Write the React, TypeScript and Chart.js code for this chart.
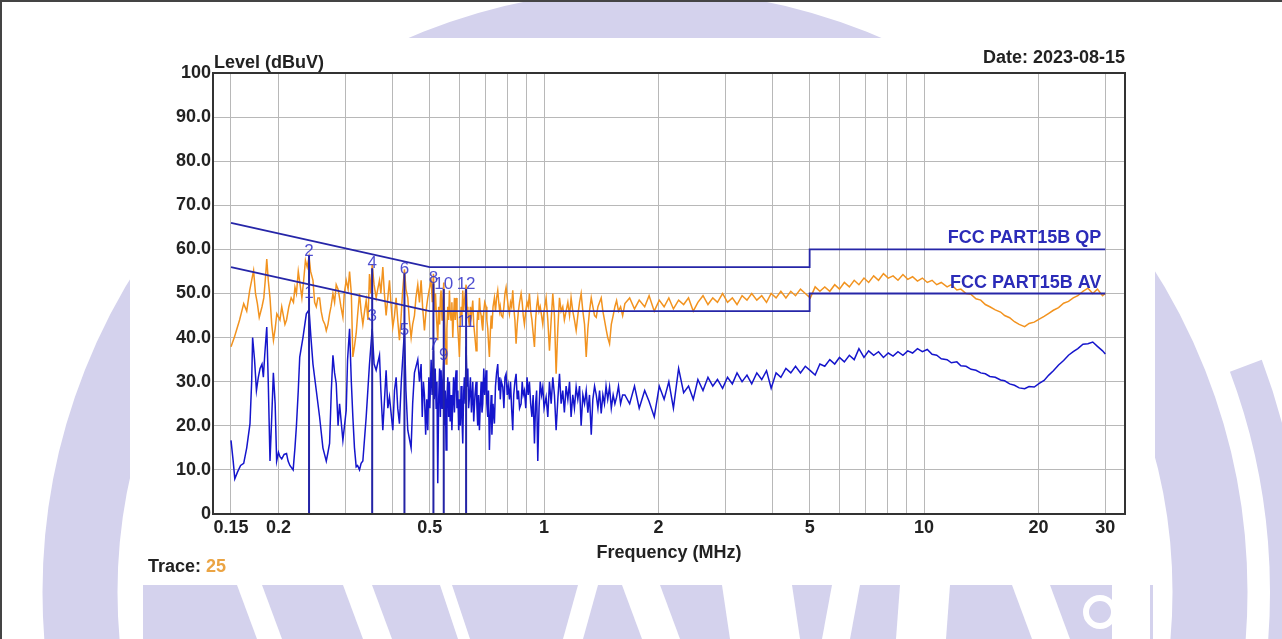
import React, { useEffect, useRef } from 'react';
import { Chart, registerables } from 'chart.js';

Chart.register(...registerables);

// ---------- axis ticks ----------
const xGridTicks = [0.15, 0.2, 0.3, 0.4, 0.5, 0.6, 0.7, 0.8, 0.9, 1, 2, 3, 4, 5, 6, 7, 8, 9, 10, 20, 30];
const xTickLabels = ['0.15', '0.2', '', '', '0.5', '', '', '', '', '1', '2', '', '', '5', '', '', '', '', '10', '20', '30'];
const yTicks = [0, 10, 20, 30, 40, 50, 60, 70, 80, 90, 100];
const yTickLabels = ['0', '10.0', '20.0', '30.0', '40.0', '50.0', '60.0', '70.0', '80.0', '90.0', '100'];

// ---------- limit lines (MHz, dBuV) ----------
const qpLimit: [number, number][] = [[0.15, 66], [0.5, 56], [5, 56], [5, 60], [30, 60]];
const avLimit: [number, number][] = [[0.15, 56], [0.5, 46], [5, 46], [5, 50], [30, 50]];
const limitNames = ['FCC PART15B QP', 'FCC PART15B AV'];
const limitNameLevels = [60, 50];

// ---------- peak trace (orange) ----------
const peakTrace: [number, number][] = [
  [0.150, 37.9], [0.153, 40], [0.155, 41.6], [0.158, 44], [0.162, 47.7], [0.165, 46], [0.168, 50.7], [0.170, 53],
  [0.172, 55.2], [0.174, 50], [0.176, 47.7], [0.178, 44.6], [0.181, 47], [0.183, 49], [0.185, 54], [0.1863, 57.8],
  [0.188, 53], [0.190, 49], [0.192, 43], [0.194, 39.4], [0.196, 42], [0.198, 45.4], [0.2018, 44], [0.204, 47],
  [0.206, 45], [0.208, 43], [0.210, 44], [0.213, 47], [0.216, 49], [0.219, 48], [0.221, 51.4], [0.223, 50],
  [0.2255, 55], [0.228, 52], [0.2305, 49], [0.233, 53], [0.2355, 57.5], [0.238, 56], [0.2407, 58.3], [0.243, 55],
  [0.2465, 53], [0.249, 48], [0.2515, 47], [0.254, 49], [0.2566, 49], [0.259, 46], [0.2618, 44], [0.265, 43],
  [0.2672, 41.6], [0.270, 43], [0.2726, 45.4], [0.275, 47], [0.2782, 50], [0.281, 48], [0.2838, 52], [0.287, 51],
  [0.2896, 49], [0.292, 47], [0.2955, 44.6], [0.298, 50], [0.3015, 53], [0.305, 51], [0.3077, 55], [0.311, 50],
  [0.3139, 35.6], [0.317, 38], [0.3203, 41], [0.323, 45], [0.3268, 50], [0.330, 46], [0.3335, 43], [0.337, 46],
  [0.3403, 48.4], [0.344, 44], [0.3472, 54.4], [0.350, 50], [0.3529, 56.5], [0.357, 52], [0.3615, 49], [0.365, 51],
  [0.3689, 53], [0.372, 50], [0.3764, 56], [0.380, 50], [0.384, 45], [0.388, 49], [0.3919, 53], [0.396, 47],
  [0.3999, 42.4], [0.404, 45], [0.408, 49], [0.412, 44], [0.4163, 39.4], [0.420, 44], [0.424, 50], [0.4291, 55.5],
  [0.433, 51], [0.4379, 49], [0.442, 44], [0.4468, 40], [0.451, 43], [0.4559, 45], [0.460, 49], [0.4652, 52],
  [0.470, 48], [0.4747, 53], [0.479, 47], [0.4844, 41.6], [0.489, 46], [0.4943, 49], [0.499, 51],
  [0.5044, 53], [0.508, 48], [0.5115, 54.5], [0.515, 46], [0.518, 50], [0.5215, 44], [0.5251, 39.4], [0.528, 47],
  [0.531, 43], [0.5335, 49], [0.5358, 50.7], [0.539, 44], [0.5415, 48], [0.5445, 52.5], [0.547, 45], [0.5495, 40],
  [0.5523, 34], [0.555, 42], [0.558, 47], [0.5608, 44], [0.5636, 50.7], [0.566, 46], [0.569, 44], [0.572, 48],
  [0.5751, 40], [0.578, 45], [0.581, 49], [0.5838, 44], [0.5868, 49], [0.590, 46], [0.593, 42], [0.596, 39],
  [0.5988, 35.6], [0.602, 43], [0.605, 47], [0.608, 45], [0.611, 50.7], [0.614, 46], [0.617, 48], [0.620, 50],
  [0.6235, 52], [0.627, 47], [0.630, 46], [0.633, 44], [0.6362, 42.4], [0.640, 47], [0.644, 45], [0.6492, 48.4],
  [0.653, 43], [0.658, 40], [0.6624, 37], [0.666, 43], [0.669, 46], [0.6725, 44], [0.6759, 49], [0.6795, 46],
  [0.683, 45], [0.6865, 43], [0.6897, 41.6], [0.694, 46], [0.698, 48], [0.7038, 47], [0.707, 44], [0.711, 42],
  [0.714, 39], [0.7181, 35.6], [0.722, 41], [0.726, 45], [0.729, 42], [0.734, 47], [0.7402, 49], [0.745, 46],
  [0.750, 49], [0.7553, 50.7], [0.760, 48], [0.764, 46], [0.767, 47], [0.772, 45], [0.7786, 44.6], [0.784, 47],
  [0.789, 50], [0.7944, 51.4], [0.800, 49], [0.805, 47], [0.8107, 45.4], [0.816, 48], [0.8215, 47], [0.8272, 50.7],
  [0.832, 47], [0.838, 44], [0.8441, 38.6], [0.850, 43], [0.856, 46], [0.862, 48], [0.8701, 50], [0.876, 48],
  [0.8815, 45], [0.8878, 43], [0.895, 46], [0.902, 48], [0.9085, 47], [0.9151, 50], [0.922, 46], [0.929, 44],
  [0.936, 41], [0.9434, 37.9], [0.950, 44], [0.956, 47], [0.9627, 49], [0.970, 46], [0.977, 47], [0.985, 45],
  [0.9923, 43], [1.000, 46], [1.0125, 49], [1.023, 44], [1.0333, 37], [1.044, 44], [1.0544, 50], [1.065, 45],
  [1.0759, 31.8], [1.087, 42], [1.098, 49], [1.109, 46], [1.12, 47], [1.131, 44], [1.143, 46], [1.155, 48],
  [1.167, 45], [1.178, 49], [1.19, 46], [1.202, 44], [1.2147, 41.6], [1.227, 45], [1.24, 48], [1.252, 50],
  [1.265, 46], [1.278, 43], [1.291, 35.6], [1.304, 42], [1.317, 46], [1.331, 49], [1.344, 47], [1.358, 45],
  [1.372, 44.6], [1.386, 47], [1.4, 48], [1.4138, 49], [1.428, 46], [1.442, 44], [1.456, 42], [1.471, 40],
  [1.4872, 38.6], [1.503, 43], [1.52, 45], [1.536, 47], [1.552, 48.4], [1.57, 46], [1.59, 47], [1.61, 45],
  [1.632, 47.7],
  [1.68, 49], [1.73, 46.5], [1.78, 48.5], [1.84, 47], [1.89, 49.5], [1.95, 46], [2.01, 48.5], [2.07, 47],
  [2.13, 49], [2.19, 46.5], [2.26, 48.5], [2.33, 47.5], [2.40, 49], [2.47, 46], [2.54, 48], [2.62, 49.5],
  [2.70, 47.5], [2.78, 49], [2.86, 48], [2.95, 50], [3.04, 48], [3.13, 49], [3.22, 47.5], [3.32, 49.5],
  [3.42, 48.5], [3.52, 50], [3.63, 48.5], [3.74, 49.5], [3.85, 48], [3.96, 50], [4.08, 49], [4.20, 50.5],
  [4.33, 49], [4.46, 50.5], [4.59, 49.5], [4.73, 51], [4.87, 50], [5.02, 49], [5.17, 51.5], [5.32, 50.5],
  [5.48, 51.5], [5.65, 50.5], [5.82, 52], [5.99, 51], [6.17, 52.5], [6.36, 51.5], [6.55, 53], [6.74, 52],
  [6.95, 53.5], [7.15, 52.5], [7.37, 54], [7.59, 53], [7.82, 54.5], [8.05, 53.5], [8.29, 54], [8.54, 53],
  [8.80, 54.3], [9.06, 53.2], [9.33, 53.8], [9.61, 52.8], [9.90, 53.5], [10.2, 52.5], [10.5, 53], [10.8, 52],
  [11.1, 52.5], [11.5, 51.5], [11.8, 52], [12.2, 50.8], [12.5, 51], [12.9, 50], [13.3, 49.8], [13.7, 48.8],
  [14.1, 48.5], [14.5, 47.5], [14.9, 47], [15.4, 46.3], [15.9, 45.8], [16.3, 45], [16.8, 44.5], [17.3, 43.6],
  [17.8, 43], [18.4, 42.5], [18.9, 43.2], [19.5, 43.5], [20.1, 44.2], [20.7, 44.8], [21.3, 45.5], [21.9, 46.2],
  [22.6, 46.8], [23.3, 47.8], [24.0, 48.2], [24.7, 49], [25.4, 49.5], [26.2, 50.5], [27.0, 51.2], [27.8, 50],
  [28.6, 51], [29.5, 49.5], [30.0, 50],
];

// ---------- average trace (blue) ----------
const avgTrace: [number, number][] = [
  [0.150, 16.7], [0.152, 12], [0.1535, 8], [0.156, 9.5], [0.159, 11], [0.162, 11.5], [0.165, 15], [0.1683, 20.5],
  [0.170, 30], [0.171, 40], [0.173, 35], [0.175, 28], [0.177, 31], [0.1789, 33], [0.181, 34], [0.1825, 31],
  [0.184, 36], [0.1863, 42.4], [0.188, 30], [0.190, 12], [0.192, 22], [0.1939, 32], [0.196, 25], [0.1978, 12],
  [0.200, 14], [0.2018, 13], [0.204, 12.5], [0.207, 13.5], [0.210, 13.7], [0.212, 12], [0.2143, 11], [0.2186, 10],
  [0.221, 15], [0.223, 20], [0.2255, 28], [0.2275, 35.6], [0.232, 40], [0.2368, 45.4], [0.2407, 46.3], [0.2435, 40],
  [0.2465, 34], [0.2515, 28], [0.2566, 22], [0.2618, 15], [0.2672, 12], [0.270, 14], [0.2726, 16], [0.2755, 28],
  [0.2782, 36], [0.281, 32], [0.2838, 29.6], [0.287, 20], [0.2896, 25], [0.2955, 16.7], [0.3015, 23.5], [0.304, 35],
  [0.3077, 42], [0.311, 30], [0.3139, 22], [0.317, 15], [0.3203, 10.7], [0.323, 11], [0.3268, 10], [0.330, 11.5],
  [0.3335, 12], [0.3403, 22], [0.3472, 34], [0.3529, 42], [0.357, 34], [0.3615, 32.6], [0.3689, 36], [0.372, 28],
  [0.3764, 19], [0.384, 32.6], [0.388, 24], [0.3919, 26.5], [0.3999, 19], [0.404, 28], [0.408, 31], [0.412, 24],
  [0.4163, 20.5], [0.421, 30], [0.4291, 41.6], [0.433, 28], [0.4379, 19], [0.4468, 15], [0.451, 25], [0.4559, 32],
  [0.4652, 35],
  [0.470, 30], [0.4747, 34], [0.478, 22], [0.4814, 30], [0.4844, 27], [0.488, 18], [0.4913, 26], [0.4943, 19],
  [0.4975, 31], [0.5005, 24], [0.5044, 35], [0.5075, 27], [0.5115, 37], [0.514, 26], [0.517, 33], [0.520, 24],
  [0.5225, 30], [0.5251, 7], [0.528, 26], [0.531, 33], [0.5335, 22], [0.5358, 32.6], [0.539, 24], [0.5415, 30],
  [0.5445, 35], [0.547, 20], [0.5495, 28], [0.5523, 14.5], [0.555, 26], [0.558, 31], [0.5608, 22], [0.5636, 30],
  [0.566, 21], [0.569, 27], [0.572, 19], [0.5751, 25], [0.578, 31], [0.581, 23], [0.5838, 30], [0.5868, 32.6],
  [0.590, 24], [0.593, 28], [0.596, 19], [0.5988, 26], [0.602, 20], [0.605, 29], [0.608, 22], [0.611, 16],
  [0.614, 27], [0.617, 31], [0.620, 25], [0.6235, 38], [0.627, 29], [0.630, 33], [0.633, 24], [0.6362, 26.5],
  [0.640, 31], [0.644, 23], [0.6492, 30], [0.653, 21], [0.658, 27], [0.6624, 30], [0.666, 24], [0.669, 20],
  [0.6725, 27], [0.6759, 19], [0.6795, 25], [0.683, 30], [0.6865, 23], [0.6897, 25], [0.694, 33], [0.698, 27],
  [0.7038, 32.6], [0.707, 25], [0.711, 22], [0.714, 28], [0.7181, 14.5], [0.722, 22], [0.726, 27], [0.729, 18],
  [0.734, 25], [0.7402, 20.5], [0.745, 29], [0.750, 32], [0.7553, 34], [0.760, 28], [0.764, 31], [0.767, 26],
  [0.772, 30], [0.7786, 28.8], [0.784, 24], [0.789, 31], [0.7944, 31.8], [0.800, 27], [0.805, 29], [0.8107, 26],
  [0.816, 30], [0.8215, 24], [0.8272, 19], [0.832, 27], [0.838, 30], [0.8441, 31.8], [0.850, 26], [0.856, 28],
  [0.862, 24], [0.8701, 25], [0.876, 30], [0.8815, 27], [0.8878, 28], [0.895, 24], [0.902, 31], [0.9085, 27],
  [0.9151, 30], [0.922, 25], [0.929, 22], [0.936, 27], [0.9434, 16], [0.950, 25], [0.956, 28], [0.9627, 12],
  [0.970, 24], [0.977, 30], [0.985, 27], [0.9923, 28.8], [1.000, 24],
  [1.0125, 26.5], [1.023, 22], [1.0333, 30], [1.044, 25], [1.0544, 31], [1.065, 27], [1.0759, 19], [1.087, 26],
  [1.098, 31.8], [1.109, 25], [1.12, 28], [1.131, 23], [1.143, 29], [1.155, 26], [1.167, 30], [1.178, 22],
  [1.19, 27], [1.202, 24], [1.2147, 28.8], [1.227, 26], [1.24, 29], [1.252, 20], [1.265, 27], [1.278, 25],
  [1.291, 28], [1.304, 23], [1.317, 27], [1.331, 18], [1.344, 26], [1.358, 29], [1.372, 27], [1.386, 24],
  [1.4, 28], [1.4138, 22.8], [1.428, 27], [1.442, 25], [1.456, 29], [1.471, 26], [1.4872, 28.8], [1.503, 24],
  [1.52, 27], [1.536, 25], [1.552, 26.5], [1.57, 29], [1.59, 25], [1.61, 27], [1.632, 27],
  [1.68, 25], [1.73, 29], [1.78, 24], [1.84, 28], [1.89, 25.5], [1.95, 22], [2.01, 29], [2.07, 26],
  [2.13, 30], [2.19, 24], [2.26, 33], [2.33, 27.5], [2.40, 29], [2.47, 26], [2.54, 30.5], [2.62, 28],
  [2.70, 31], [2.78, 29], [2.86, 30.5], [2.95, 28.5], [3.04, 31], [3.13, 29.5], [3.22, 32], [3.32, 30],
  [3.42, 31.5], [3.52, 29.5], [3.63, 32], [3.74, 30.5], [3.85, 32.5], [3.96, 28.5], [4.08, 32], [4.20, 31],
  [4.33, 33], [4.46, 32], [4.59, 33.5], [4.73, 32], [4.87, 33.5], [5.02, 32.5], [5.17, 31.5], [5.32, 34],
  [5.48, 33.5], [5.65, 35], [5.82, 34], [5.99, 35.5], [6.17, 34.5], [6.36, 36], [6.55, 35], [6.74, 37.5],
  [6.95, 35.5], [7.15, 37], [7.37, 36], [7.59, 36.8], [7.82, 35.5], [8.05, 36.5], [8.29, 35.8], [8.54, 36.8],
  [8.80, 36], [9.06, 37], [9.33, 36.5], [9.61, 37.5], [9.90, 36.8], [10.2, 37.3], [10.5, 36.2], [10.8, 36],
  [11.1, 35.2], [11.5, 35], [11.8, 34.3], [12.2, 34.5], [12.5, 33.6], [12.9, 33.5], [13.3, 32.8], [13.7, 32.6],
  [14.1, 32], [14.5, 31.8], [14.9, 31.2], [15.4, 31], [15.9, 30.4], [16.3, 30.2], [16.8, 29.5], [17.3, 29.2],
  [17.8, 28.6], [18.4, 28.4], [18.9, 28.9], [19.5, 28.8], [20.1, 29.6], [20.7, 30.3], [21.3, 31.5], [21.9, 32.5],
  [22.6, 33.8], [23.3, 34.8], [24.0, 36], [24.7, 36.8], [25.4, 37.5], [26.2, 38.5], [27.0, 38.6], [27.8, 39],
  [28.6, 38], [29.5, 37], [30.0, 36.3],
];

// ---------- markers (odd = AV reading, even = QP reading) ----------
const markerFreqs = [0.2407, 0.3529, 0.4291, 0.5115, 0.5445, 0.6235];
const markerAvLevels = [48.9, 43.7, 40.7, 37.3, 35.0, 42.5];
const markerQpLevels = [58.6, 55.7, 54.5, 52.3, 51.0, 51.0];

const dateText = 'Date: 2023-08-15';
const traceNumber = '25';
const FONT = '"Liberation Sans", Arial, Helvetica, sans-serif';

const decorPlugin = {
  id: 'decor',
  beforeDraw(chart: any) {
    const ctx = chart.ctx as CanvasRenderingContext2D;
    const W = chart.width;
    const H = chart.height;
    ctx.save();
    ctx.fillStyle = '#ffffff';
    ctx.fillRect(0, 0, W, H);
    const lav = 'rgb(212,210,237)';
    ctx.strokeStyle = lav;
    ctx.lineWidth = 75;
    ctx.beginPath();
    ctx.arc(645, 592, 565, 0, Math.PI * 2);
    ctx.stroke();
    ctx.lineWidth = 34;
    ctx.beginPath();
    ctx.arc(645, 592, 642, -0.36, 0.2);
    ctx.stroke();
    // bottom strip of the watermark
    ctx.fillStyle = lav;
    ctx.fillRect(143, 585, 1010, 54);
    ctx.fillStyle = '#ffffff';
    const gaps: number[][] = [
      [237, 262, 282, 257], [343, 372, 392, 363], [440, 452, 470, 458], [578, 598, 583, 563],
      [622, 660, 680, 642], [722, 792, 800, 730], [832, 860, 850, 822], [900, 950, 946, 896],
      [1012, 1050, 1070, 1032], [1112, 1150, 1150, 1112],
    ];
    gaps.forEach(([a, b, c, d]) => {
      ctx.beginPath();
      ctx.moveTo(a, 585);
      ctx.lineTo(b, 585);
      ctx.lineTo(c, 639);
      ctx.lineTo(d, 639);
      ctx.closePath();
      ctx.fill();
    });
    ctx.strokeStyle = '#ffffff';
    ctx.lineWidth = 6;
    ctx.beginPath();
    ctx.arc(1100, 612, 14, 0, Math.PI * 2);
    ctx.stroke();
    // white chart card
    ctx.fillStyle = '#ffffff';
    ctx.fillRect(130, 38, 1025, 547);
    // outer thin frame
    ctx.strokeStyle = '#444';
    ctx.lineWidth = 2;
    ctx.beginPath();
    ctx.moveTo(0, 1);
    ctx.lineTo(W, 1);
    ctx.moveTo(1, 0);
    ctx.lineTo(1, H);
    ctx.stroke();
    ctx.restore();
  },
  afterDatasetsDraw(chart: any) {
    const ctx = chart.ctx as CanvasRenderingContext2D;
    const ca = chart.chartArea;
    const xs = chart.scales.x;
    const ys = chart.scales.y;
    ctx.save();
    ctx.strokeStyle = '#333';
    ctx.lineWidth = 2;
    ctx.strokeRect(ca.left, ca.top, ca.right - ca.left, ca.bottom - ca.top);

    // marker numbers
    ctx.font = `17px ${FONT}`;
    ctx.fillStyle = 'rgba(48,48,200,0.85)';
    ctx.textAlign = 'center';
    ctx.textBaseline = 'alphabetic';
    markerFreqs.forEach((f, i) => {
      const px = xs.getPixelForValue(f);
      ctx.fillText(String(2 * i + 2), px, ys.getPixelForValue(markerQpLevels[i]));
      ctx.fillText(String(2 * i + 1), px, ys.getPixelForValue(markerAvLevels[i]));
    });

    // limit names
    ctx.font = `bold 18px ${FONT}`;
    ctx.fillStyle = '#2b2bb8';
    ctx.textAlign = 'right';
    limitNames.forEach((n, i) => {
      ctx.fillText(n, xs.getPixelForValue(30) - 4, ys.getPixelForValue(limitNameLevels[i]) - 6);
    });

    // header / footer texts
    ctx.fillStyle = '#222';
    ctx.textAlign = 'left';
    ctx.fillText('Level (dBuV)', ca.left + 1, ca.top - 5);
    ctx.textAlign = 'right';
    ctx.fillText(dateText, ca.right, ca.top - 10);
    ctx.textAlign = 'left';
    const t = 'Trace: ';
    ctx.fillText(t, 148, 572);
    const w = ctx.measureText(t).width;
    ctx.fillStyle = '#eba443';
    ctx.fillText(traceNumber, 148 + w, 572);
    ctx.restore();
  },
};

export default function App() {
  const ref = useRef<HTMLCanvasElement>(null);
  useEffect(() => {
    const canvas = ref.current;
    if (!canvas) return;
    const toXY = (arr: [number, number][]) => arr.map(([x, y]) => ({ x, y }));
    const markerLineData: any[] = [];
    markerFreqs.forEach((f, i) => {
      markerLineData.push({ x: f, y: 0 });
      markerLineData.push({ x: f, y: Math.max(markerQpLevels[i], markerAvLevels[i]) });
      markerLineData.push({ x: f, y: null });
    });
    const chart = new Chart(canvas, {
      type: 'line',
      data: {
        datasets: [
          {
            label: 'markers',
            data: markerLineData,
            borderColor: '#2424a6',
            borderWidth: 2,
            pointRadius: 0,
            spanGaps: false,
          },
          {
            label: limitNames[0],
            data: toXY(qpLimit),
            borderColor: '#2626a8',
            borderWidth: 1.8,
            pointRadius: 0,
          },
          {
            label: limitNames[1],
            data: toXY(avLimit),
            borderColor: '#2626a8',
            borderWidth: 1.8,
            pointRadius: 0,
          },
          {
            label: 'AV trace',
            data: toXY(avgTrace),
            borderColor: '#1515cc',
            borderWidth: 1.5,
            pointRadius: 0,
          },
          {
            label: 'Peak trace',
            data: toXY(peakTrace),
            borderColor: '#f2931f',
            borderWidth: 1.5,
            pointRadius: 0,
          },
        ],
      },
      options: {
        responsive: false,
        animation: false,
        events: [],
        layout: { padding: { left: 0, top: 73, right: 157, bottom: 55 } },
        plugins: {
          legend: { display: false },
          tooltip: { enabled: false },
          title: { display: false },
        },
        elements: { line: { tension: 0 } },
        scales: {
          x: {
            type: 'logarithmic',
            min: 0.1345,
            max: 33.8,
            afterBuildTicks: (scale: any) => {
              scale.ticks = xGridTicks.map((v) => ({ value: v }));
            },
            afterFit: (scale: any) => {
              scale.height = 70;
            },
            border: { display: false },
            grid: { color: '#b8b8b8', lineWidth: 1, drawTicks: false },
            ticks: {
              autoSkip: false,
              maxRotation: 0,
              minRotation: 0,
              padding: 3,
              color: '#222',
              font: { family: FONT, size: 18, weight: 'bold' },
              callback: (_v: any, i: number) => xTickLabels[i],
            },
            title: {
              display: true,
              text: 'Frequency (MHz)',
              color: '#222',
              font: { family: FONT, size: 18, weight: 'bold' },
              padding: { top: 0, bottom: 20 },
            },
          },
          y: {
            type: 'linear',
            min: 0,
            max: 100,
            afterBuildTicks: (scale: any) => {
              scale.ticks = yTicks.map((v) => ({ value: v }));
            },
            afterFit: (scale: any) => {
              scale.width = 213;
            },
            border: { display: false },
            grid: { color: '#b8b8b8', lineWidth: 1, drawTicks: false },
            ticks: {
              padding: 2,
              color: '#222',
              font: { family: FONT, size: 18, weight: 'bold' },
              callback: (_v: any, i: number) => yTickLabels[i],
            },
          },
        },
      },
      plugins: [decorPlugin],
    } as any);
    return () => chart.destroy();
  }, []);

  return (
    <div style={{ position: 'absolute', left: 0, top: 0, width: 1282, height: 639, overflow: 'hidden' }}>
      <canvas ref={ref} width={1282} height={639} style={{ display: 'block' }} />
    </div>
  );
}
